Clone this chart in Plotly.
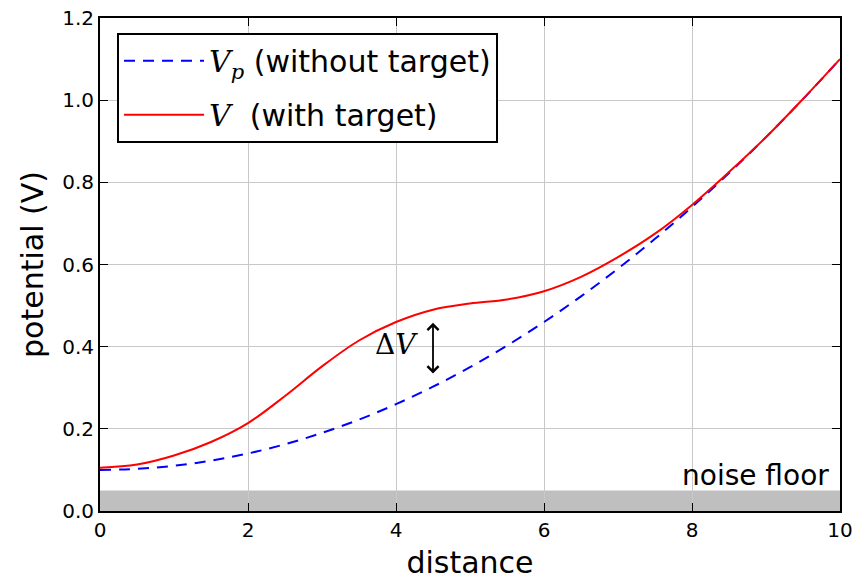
import plotly.graph_objects as go

# values
distance = [0, 0.5, 1, 1.5, 2, 2.5, 3, 3.5, 4, 4.5, 5, 5.5, 6, 6.5, 7, 7.5, 8, 8.5, 9, 9.5, 10]
v_without = [0.100, 0.1025, 0.110, 0.1225, 0.140, 0.1625, 0.190, 0.2225, 0.260, 0.3025, 0.350,
             0.4025, 0.460, 0.5225, 0.590, 0.6625, 0.740, 0.8225, 0.910, 1.0025, 1.100]
v_with = [0.105, 0.113, 0.135, 0.168, 0.214, 0.280, 0.352, 0.415, 0.460, 0.490, 0.505,
          0.515, 0.535, 0.570, 0.618, 0.675, 0.745, 0.825, 0.910, 1.003, 1.100]
noise_level = 0.05
dv_x = 4.5
dv_range = [0.331, 0.458]

serif = "DejaVu Serif"
font = "DejaVu Sans"

fig = go.Figure()

fig.add_trace(go.Scatter(
    x=distance, y=v_without, mode="lines", line_shape="spline",
    line=dict(color="blue", width=2, dash="11px,8px"), legendgroup="a",
    name='<span style="font-family:DejaVu Serif"><i>V</i><sub><i>p</i></sub></span> (without target)'))
fig.add_trace(go.Scatter(
    x=distance, y=v_with, mode="lines", line_shape="spline",
    line=dict(color="red", width=2), legendgroup="b",
    name='<span style="font-family:DejaVu Serif"><i>V</i></span>  (with target)'))

# noise floor band
fig.add_shape(type="rect", x0=0, x1=10, y0=0, y1=noise_level, xref="x", yref="y",
              fillcolor="#bfbfbf", line=dict(width=0), layer="below")
fig.add_annotation(x=9.88, y=noise_level, xref="x", yref="y", text="noise floor",
                   showarrow=False, xanchor="right", yanchor="bottom", yshift=-4,
                   font=dict(family=font, size=28, color="black"))

# delta V arrow
fig.add_annotation(x=dv_x, y=dv_range[1], ax=dv_x, ay=dv_range[0], xref="x", yref="y",
                   axref="x", ayref="y", text="", showarrow=True, arrowhead=4,
                   arrowside="end+start", arrowwidth=1.8, arrowsize=1.2, arrowcolor="black")
fig.add_annotation(x=4.33, y=0.405, xref="x", yref="y",
                   text="Δ<i>V</i>", showarrow=False, xanchor="right",
                   font=dict(family=serif, size=28, color="black"))

axis_common = dict(showline=True, linecolor="black", linewidth=2, mirror="allticks",
                   ticks="inside", ticklen=8, tickwidth=1, tickcolor="black",
                   showgrid=True, gridcolor="#c8c8c8", gridwidth=1, zeroline=False,
                   automargin=False, ticklabeloverflow="allow",
                   tickfont=dict(family=font, size=20, color="black"))

fig.update_xaxes(range=[0, 10], dtick=2, title=dict(text="distance", standoff=14,
                 font=dict(family=font, size=30, color="black")), **axis_common)
fig.update_yaxes(range=[0, 1.2], dtick=0.2, tickformat=".1f",
                 title=dict(text="potential (V)", standoff=10,
                            font=dict(family=font, size=30, color="black")), **axis_common)

# page body has an 8px margin, so the figure is sized 860x572
fig.update_layout(
    width=860, height=572,
    margin=dict(l=92, r=28, t=10, b=69),
    plot_bgcolor="white", paper_bgcolor="white",
    font=dict(family=font, color="black"),
    legend=dict(x=0.023, y=0.97, xanchor="left", yanchor="top",
                bordercolor="black", borderwidth=2, bgcolor="white",
                traceorder="grouped", tracegroupgap=12, itemwidth=80,
                font=dict(family=font, size=30, color="black")),
)

fig.write_html("out.html")
